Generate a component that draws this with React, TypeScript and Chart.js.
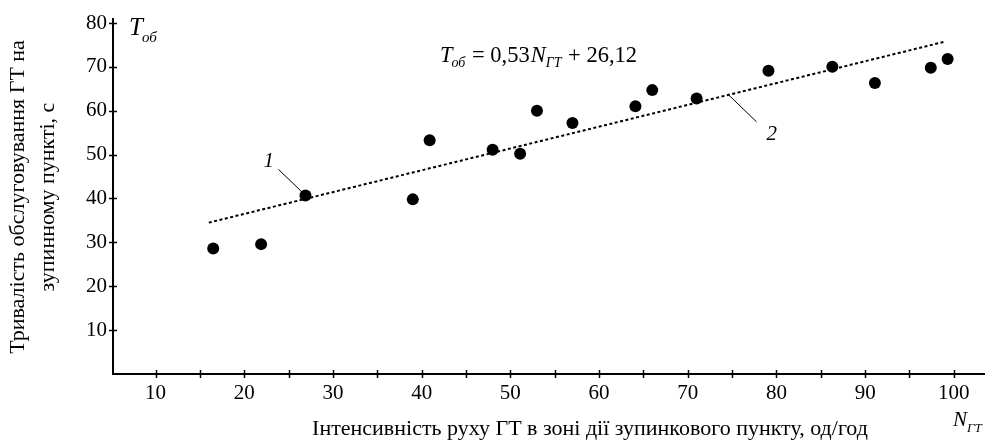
import React, { useEffect, useRef } from 'react';
import { Chart, registerables } from 'chart.js';

Chart.register(...registerables);

// Data
const intensity = [16.5, 21.9, 26.9, 39.0, 40.9, 48.0, 51.1, 53.0, 57.0, 64.1, 66.0, 71.0, 79.1, 86.3, 91.1, 97.4, 99.3];
const serviceTime = [28.6, 29.6, 40.7, 39.8, 53.3, 51.1, 50.2, 60.0, 57.2, 61.0, 64.7, 62.8, 69.1, 70.0, 66.3, 69.8, 71.8];
const trendX = [16.0, 98.9];
const trendY = [34.5, 75.7];
const xTickValues = [10, 15, 20, 25, 30, 35, 40, 45, 50, 55, 60, 65, 70, 75, 80, 85, 90, 95, 100];
const yTickValues = [10, 20, 30, 40, 50, 60, 70, 80];
const xTitle = 'Інтенсивність руху ГТ в зоні дії зупинкового пункту, од/год';
const yTitle = ['Тривалість обслуговування ГТ на', 'зупинному пункті, с'];

const SERIF = '"Liberation Serif", "Times New Roman", serif';

type Seg = { t: string; size: number; italic?: boolean; dy?: number; gap?: number };

function drawRich(ctx: CanvasRenderingContext2D, x: number, y: number, segs: Seg[]) {
  let cx = x;
  for (const s of segs) {
    ctx.font = `${s.italic ? 'italic ' : ''}${s.size}px ${SERIF}`;
    cx += s.gap || 0;
    ctx.fillText(s.t, cx, y + (s.dy || 0));
    cx += ctx.measureText(s.t).width;
  }
}

const annotPlugin = {
  id: 'annot',
  afterDraw(chart: any) {
    const ctx: CanvasRenderingContext2D = chart.ctx;
    const xs = chart.scales.x;
    const ys = chart.scales.y;
    ctx.save();
    ctx.strokeStyle = '#000';
    ctx.fillStyle = '#000';
    ctx.lineWidth = 1.5;
    // crossing tick marks
    ctx.beginPath();
    xTickValues.forEach((v) => {
      const px = Math.round(xs.getPixelForValue(v)) + 0.5;
      ctx.moveTo(px, ys.bottom - 4);
      ctx.lineTo(px, ys.bottom + 4);
    });
    yTickValues.forEach((v) => {
      const py = Math.round(ys.getPixelForValue(v)) + 0.5;
      ctx.moveTo(xs.left - 4, py);
      ctx.lineTo(xs.left + 4, py);
    });
    ctx.stroke();

    ctx.textAlign = 'left';
    ctx.textBaseline = 'alphabetic';
    // axis symbols
    drawRich(ctx, 129, 35, [
      { t: 'T', size: 25, italic: true },
      { t: 'об', size: 15, italic: true, dy: 7, gap: -1 },
    ]);
    drawRich(ctx, 953, 426, [
      { t: 'N', size: 21, italic: true },
      { t: 'ГТ', size: 13, italic: true, dy: 6, gap: 0 },
    ]);
    // equation
    drawRich(ctx, 440, 62, [
      { t: 'T', size: 22.5, italic: true },
      { t: 'об', size: 14, italic: true, dy: 5, gap: -1 },
      { t: ' = 0,53', size: 22.5, gap: 1 },
      { t: 'N', size: 22.5, italic: true, gap: 1 },
      { t: 'ГТ', size: 14, italic: true, dy: 5, gap: 0 },
      { t: ' + 26,12', size: 22.5, gap: 1 },
    ]);

    // label 1 with leader
    const p3x = xs.getPixelForValue(intensity[2]);
    const p3y = ys.getPixelForValue(serviceTime[2]);
    ctx.lineWidth = 1;
    ctx.beginPath();
    ctx.moveTo(p3x - 27, p3y - 26);
    ctx.lineTo(p3x - 3, p3y - 3);
    ctx.stroke();
    ctx.font = `italic 21px ${SERIF}`;
    ctx.fillText('1', p3x - 42, p3y - 28);

    // label 2 with leader
    const lx = 74.6;
    const t = (lx - trendX[0]) / (trendX[1] - trendX[0]);
    const ly = trendY[0] + t * (trendY[1] - trendY[0]);
    const a2x = xs.getPixelForValue(lx);
    const a2y = ys.getPixelForValue(ly);
    ctx.beginPath();
    ctx.moveTo(a2x, a2y);
    ctx.lineTo(a2x + 28, a2y + 27);
    ctx.stroke();
    ctx.fillText('2', a2x + 38, a2y + 45);

    // axis titles
    ctx.font = `22px ${SERIF}`;
    ctx.textAlign = 'center';
    ctx.fillText(xTitle, 590, 435);
    ctx.save();
    ctx.translate(0, 197);
    ctx.rotate(-Math.PI / 2);
    ctx.textBaseline = 'middle';
    ctx.font = `22px ${SERIF}`;
    ctx.fillText(yTitle[0], 0, 18);
    ctx.fillText(yTitle[1], 0, 48);
    ctx.restore();
    ctx.restore();
  },
};

export default function App() {
  const ref = useRef<HTMLCanvasElement>(null);
  useEffect(() => {
    document.body.style.margin = '0';
    const canvas = ref.current;
    if (!canvas) return;
    const chart = new Chart(canvas, {
      type: 'scatter',
      data: {
        datasets: [
          {
            type: 'line',
            data: trendX.map((x, i) => ({ x, y: trendY[i] })),
            borderColor: '#000',
            borderWidth: 2,
            borderDash: [3, 2.5],
            pointRadius: 0,
            fill: false,
            order: 2,
          } as any,
          {
            type: 'scatter',
            data: intensity.map((x, i) => ({ x, y: serviceTime[i] })),
            backgroundColor: '#000',
            borderColor: '#000',
            pointRadius: 6,
            pointBorderWidth: 0,
            order: 1,
          },
        ],
      },
      options: {
        animation: false,
        responsive: false,
        devicePixelRatio: 1,
        layout: { padding: { top: 17.6, right: 2, left: 0, bottom: 0 } },
        plugins: { legend: { display: false }, tooltip: { enabled: false } },
        scales: {
          x: {
            type: 'linear',
            min: 5.2,
            max: 103.4,
            afterBuildTicks: (s: any) => {
              s.ticks = xTickValues.map((v) => ({ value: v }));
            },
            afterFit: (s: any) => {
              s.height = 66;
            },
            ticks: {
              stepSize: 5,
              includeBounds: false,
              autoSkip: false,
              maxRotation: 0,
              color: '#000',
              padding: 7,
              font: { family: SERIF, size: 21 },
              callback: (v: any) => (Math.round(v) % 10 === 0 ? String(Math.round(v)) : ''),
            },
            grid: { display: true, drawOnChartArea: false, drawTicks: false, color: '#000' },
            border: { display: true, color: '#000', width: 2 },
          },
          y: {
            type: 'linear',
            min: 0,
            max: 81,
            afterBuildTicks: (s: any) => {
              s.ticks = yTickValues.map((v) => ({ value: v }));
            },
            afterFit: (s: any) => {
              s.width = 113;
            },
            ticks: {
              stepSize: 10,
              includeBounds: false,
              autoSkip: false,
              color: '#000',
              padding: 6,
              font: { family: SERIF, size: 21 },
              callback: (v: any) => String(Math.round(v)),
            },
            grid: { display: true, drawOnChartArea: false, drawTicks: false, color: '#000' },
            border: { display: true, color: '#000', width: 2 },
          },
        },
      },
      plugins: [annotPlugin],
    });
    return () => chart.destroy();
  }, []);
  return (
    <div style={{ width: 990, height: 440, background: '#fff' }}>
      <canvas ref={ref} width={990} height={440} style={{ display: 'block' }} />
    </div>
  );
}
